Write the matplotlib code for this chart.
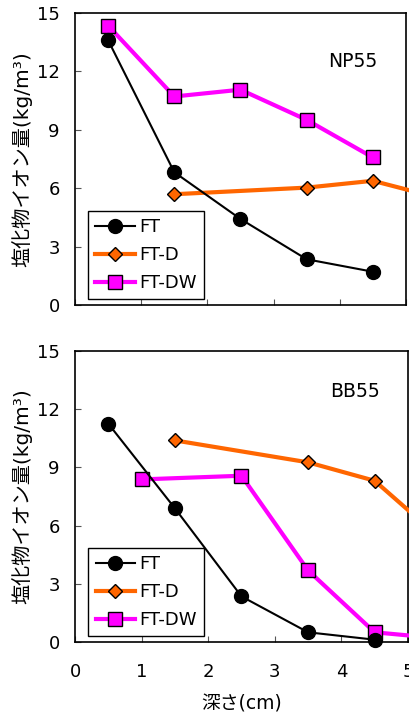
import matplotlib
matplotlib.use("Agg")
import matplotlib.pyplot as plt

plt.rcParams['font.family'] = ['DejaVu Sans', 'Noto Sans CJK JP']

# depth (cm); the last point lies past the axis edge and is cut by the figure
depth_ft = [0.5, 1.5, 2.5, 3.5, 4.5]
depth_d = [1.5, 3.5, 4.5, 5.5]
np_depth_dw = [0.5, 1.5, 2.5, 3.5, 4.5]
bb_depth_dw = [1.0, 2.5, 3.5, 4.5, 5.5]

np_ft = [13.6, 6.82, 4.42, 2.35, 1.71]
np_d = [5.69, 6.03, 6.38, 5.5]
np_dw = [14.35, 10.71, 11.06, 9.51, 7.58]

bb_ft = [11.25, 6.89, 2.35, 0.50, 0.12]
bb_d = [10.39, 9.26, 8.31, 5.3]
bb_dw = [8.38, 8.57, 3.69, 0.50, 0.18]

panels = [
    ("NP55", np_ft, np_d, np_depth_dw, np_dw, [0.183, 0.5746, 0.807, 0.4073], 12.5),
    ("BB55", bb_ft, bb_d, bb_depth_dw, bb_dw, [0.183, 0.1046, 0.812, 0.4059], 12.9),
]

yticks = [0, 3, 6, 9, 12, 15]
xticks = [0, 1, 2, 3, 4, 5]

fig = plt.figure(figsize=(4.1, 7.17), dpi=100)

for i, (name, ft, d, x_dw, dw, rect, ty) in enumerate(panels):
    ax = fig.add_axes(rect)
    ax.plot(depth_ft, ft, color="black", lw=1.5, marker="o", ms=10,
            mfc="black", mec="black", label="FT", clip_on=False, zorder=4)
    ax.plot(depth_d, d, color="#FF6600", lw=3, marker="D", ms=7.5,
            mfc="#FF6600", mec="black", mew=1, label="FT-D", clip_on=False, zorder=3)
    ax.plot(x_dw, dw, color="#FF00FF", lw=3, marker="s", ms=9.5,
            mfc="#FF00FF", mec="black", mew=1, label="FT-DW", clip_on=False, zorder=3)
    ax.set_xlim(0, 5)
    ax.set_ylim(0, 15)
    ax.set_yticks(yticks)
    ax.set_xticks(xticks)
    ax.tick_params(direction="in", length=4, color="#555555", labelsize=13)
    ax.tick_params(axis="y", pad=11)
    ax.tick_params(axis="x", pad=15)
    if i == 0:
        ax.set_xticklabels([])
    else:
        ax.set_xlabel("深さ(cm)", fontsize=13.5, labelpad=10)
    ax.set_ylabel("塩化物イオン量(kg/m³)", fontsize=14.5, labelpad=3)
    ax.text(4.2, ty, name, fontsize=13.5, ha="center", va="center")
    for sp in ax.spines.values():
        sp.set_linewidth(1.2)
    leg = ax.legend(loc="lower left", bbox_to_anchor=(0.04, 0.02), fontsize=13,
                    handlelength=2.2, handletextpad=0.2, borderpad=0.4,
                    labelspacing=0.55, fancybox=False, framealpha=1,
                    edgecolor="black", borderaxespad=0)
    leg.get_frame().set_linewidth(1)

fig.savefig("out.png", dpi=100)
